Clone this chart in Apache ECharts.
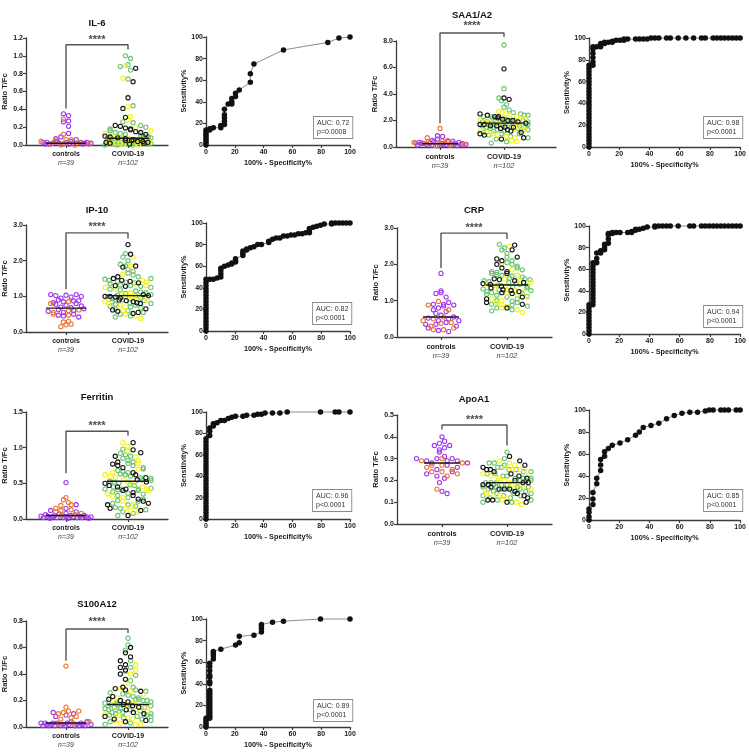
<!DOCTYPE html>
<html><head><meta charset="utf-8">
<script src="https://cdn.jsdelivr.net/npm/echarts@6/dist/echarts.min.js"></script>
<style>html,body{margin:0;padding:0;background:#fff}#c{width:749px;height:753px}</style>
</head><body><div id="c"></div>
<script>
// ---------------- DATA ----------------
const groupLabels = ['controls', 'COVID-19'];
const groupN = ['n=39', 'n=102'];

// IL-6
const il6_ctrl_purple = [0.35,0.33,0.27,0.26,0.21,0.13,0.09,0.07,0.06,0.04,0.04,0.03,0.03,0.03,0.03,0.02,0.02,0.02,0.02,0.02,0.02,0.01,0.01,0.01,0.01,0.01,0.03];
const il6_ctrl_orange = [0.29,0.12,0.06,0.06,0.05,0.04,0.03,0.02,0.01,0.01,0.0,0.0];
const il6_cov_green = [1.0,0.97,0.9,0.88,0.84,0.74,0.44,0.26,0.25,0.22,0.2,0.18,0.16,0.14,0.13,0.12,0.11,0.1,0.1,0.09,0.08,0.08,0.07,0.07,0.06,0.06,0.05,0.05,0.05,0.04,0.04,0.04,0.04,0.03,0.03,0.03,0.03,0.02,0.02,0.02,0.02,0.02,0.01,0.01,0.01,0.01,0.01,0.0,0.0,0.0];
const il6_cov_yellow = [0.89,0.75,0.43,0.32,0.28,0.2,0.16,0.13,0.1,0.08,0.07,0.06,0.05,0.05,0.04,0.04,0.03,0.03,0.02,0.02,0.02,0.01,0.01,0.01,0.0];
const il6_cov_black = [0.86,0.71,0.53,0.41,0.31,0.22,0.21,0.19,0.18,0.17,0.15,0.14,0.12,0.1,0.09,0.08,0.07,0.06,0.05,0.05,0.04,0.04,0.03,0.03,0.02,0.02,0.01];
const il6_median = [0.02, 0.075];
const il6_bracket = [0.41, 1.125, 1.07, 1.18];
const il6_roc = [[0,0],[0,2],[0,4],[0,6],[0,8],[0,10],[0,12],[0,14],[2.6,14],[2.6,15],[5.1,16],[10.3,16],[10.3,18],[12.8,19],[12.8,22],[12.8,25],[12.8,28],[12.8,33],[15.4,38],[17.9,38],[17.9,40],[17.9,43],[20.5,45],[20.5,48],[23.1,51],[30.8,58],[30.8,66],[33.3,75],[53.8,88],[84.6,95],[92.3,99],[100,100]];
const il6_auc = ['AUC: 0.72', 'p=0.0008'];

// SAA1/A2
const saa_ctrl_purple = [0.85,0.8,0.6,0.5,0.45,0.4,0.4,0.35,0.35,0.3,0.3,0.3,0.25,0.25,0.25,0.2,0.2,0.2,0.2,0.15,0.15,0.15,0.1,0.1,0.3,0.2,0.25];
const saa_ctrl_orange = [1.4,0.7,0.5,0.45,0.4,0.35,0.3,0.3,0.25,0.2,0.15,0.1];
const saa_cov_green = [7.7,4.4,3.7,3.5,3.2,3.0,2.8,2.6,2.5,2.4,2.4,2.3,2.3,2.2,2.2,2.1,2.1,2.0,2.0,2.0,1.9,1.9,1.9,1.8,1.8,1.8,1.7,1.7,1.7,1.6,1.6,1.6,1.5,1.5,1.5,1.4,1.4,1.3,1.3,1.2,1.2,1.1,1.0,1.0,0.9,0.8,0.7,0.6,0.4,0.3];
const saa_cov_yellow = [2.7,2.6,2.5,2.4,2.3,2.2,2.1,2.0,1.9,1.9,1.8,1.8,1.7,1.6,1.5,1.4,1.3,1.2,1.1,1.0,0.9,0.8,0.7,0.5,0.4];
const saa_cov_black = [5.9,3.7,3.6,2.5,2.4,2.3,2.3,2.2,2.1,2.0,2.0,1.9,1.8,1.7,1.7,1.6,1.6,1.5,1.5,1.4,1.3,1.2,1.1,1.0,0.9,0.7,0.6];
const saa_median = [0.25, 1.8];
const saa_bracket = [1.8, 8.6, 8.3, 9.15];
const saa_roc = [[0,0],[0,3],[0,6],[0,9],[0,12],[0,15],[0,18],[0,21],[0,24],[0,27],[0,30],[0,33],[0,36],[0,39],[0,42],[0,45],[0,48],[0,51],[0,54],[0,57],[0,60],[0,63],[0,66],[0,69],[0,72],[0,75],[2.6,75],[2.6,78],[2.6,82],[2.6,86],[2.6,90],[2.6,92],[5.1,92],[7.7,92],[7.7,94],[7.7,95],[10.3,95],[10.3,96],[12.8,96],[15.4,96],[15.4,97],[17.9,98],[20.5,98],[23.1,98],[23.1,99],[25.6,99],[30.8,99],[33.3,99],[35.9,99],[38.5,99],[41,100],[43.6,100],[46.2,100],[51.3,100],[53.8,100],[59,100],[64.1,100],[69.2,100],[74.4,100],[76.9,100],[82.1,100],[84.6,100],[87.2,100],[89.7,100],[92.3,100],[94.9,100],[97.4,100],[100,100]];
const saa_auc = ['AUC: 0.98', 'p<0.0001'];

// IP-10
const ip10_ctrl_purple = [1.05,1.05,1.03,1.02,1.0,0.98,0.95,0.9,0.88,0.87,0.85,0.82,0.8,0.78,0.75,0.73,0.7,0.68,0.65,0.63,0.6,0.58,0.55,0.5,0.47,0.45,0.42];
const ip10_ctrl_orange = [0.85,0.8,0.62,0.6,0.55,0.5,0.47,0.3,0.28,0.22,0.2,0.15];
const ip10_cov_green = [2.2,2.1,2.0,1.9,1.85,1.75,1.7,1.65,1.6,1.55,1.5,1.48,1.45,1.42,1.4,1.38,1.35,1.32,1.3,1.28,1.25,1.2,1.18,1.15,1.12,1.1,1.08,1.05,1.03,1.02,1.0,0.98,0.95,0.93,0.9,0.88,0.85,0.82,0.8,0.78,0.75,0.72,0.7,0.68,0.65,0.6,0.55,0.5,0.45,0.42];
const ip10_cov_yellow = [2.1,1.85,1.62,1.45,1.4,1.35,1.3,1.25,1.2,1.1,1.05,1.02,1.0,1.0,0.98,0.95,0.9,0.85,0.8,0.75,0.7,0.6,0.5,0.45,0.38];
const ip10_cov_black = [2.45,2.18,1.85,1.82,1.55,1.5,1.45,1.42,1.38,1.3,1.28,1.05,1.02,1.0,1.0,0.98,0.95,0.9,0.88,0.85,0.82,0.8,0.65,0.62,0.58,0.55,0.52];
const ip10_median = [0.67, 1.02];
const ip10_bracket = [1.2, 2.78, 2.62, 2.94];
const ip10_roc = [[0,0],[0,3],[0,6],[0,9],[0,12],[0,15],[0,18],[0,21],[0,24],[0,27],[0,30],[0,33],[0,36],[0,39],[0,42],[0,45],[0,48],[2.6,48],[5.1,48],[7.7,49],[10.3,50],[10.3,53],[10.3,56],[10.3,58],[12.8,60],[15.4,61],[17.9,62],[17.9,63],[20.5,64],[20.5,65],[20.5,67],[25.6,70],[25.6,72],[25.6,74],[28.2,75],[28.2,76],[30.8,77],[33.3,78],[35.9,80],[38.5,80],[43.6,82],[43.6,83],[46.2,85],[48.7,86],[51.3,86],[53.8,88],[56.4,88],[59,89],[61.5,89],[64.1,90],[66.7,90],[69.2,91],[71.8,91],[71.8,93],[71.8,95],[74.4,96],[76.9,97],[79.5,98],[82.1,99],[87.2,99],[87.2,100],[89.7,100],[92.3,100],[94.9,100],[97.4,100],[100,100]];
const ip10_auc = ['AUC: 0.82', 'p<0.0001'];

// CRP
const crp_ctrl_purple = [1.75,1.27,1.22,1.2,1.1,0.95,0.9,0.9,0.88,0.85,0.8,0.75,0.7,0.65,0.6,0.55,0.52,0.5,0.45,0.45,0.4,0.35,0.35,0.3,0.25,0.18,0.15];
const crp_ctrl_orange = [0.98,0.88,0.75,0.55,0.5,0.45,0.4,0.38,0.3,0.25,0.2,0.2];
const crp_cov_green = [2.55,2.45,2.4,2.3,2.2,2.1,2.05,2.0,1.95,1.9,1.85,1.8,1.78,1.75,1.72,1.7,1.68,1.65,1.62,1.6,1.58,1.55,1.52,1.5,1.48,1.45,1.43,1.4,1.38,1.35,1.32,1.3,1.28,1.25,1.22,1.2,1.18,1.15,1.12,1.1,1.05,1.0,0.98,0.95,0.9,0.88,0.85,0.8,0.75,0.72];
const crp_cov_yellow = [2.5,2.0,1.85,1.7,1.6,1.55,1.5,1.45,1.42,1.4,1.35,1.3,1.28,1.25,1.2,1.15,1.1,1.05,1.0,0.95,0.9,0.85,0.8,0.75,0.68];
const crp_cov_black = [2.53,2.4,2.2,2.15,2.1,2.0,1.9,1.8,1.75,1.6,1.58,1.55,1.5,1.47,1.45,1.4,1.35,1.3,1.28,1.25,1.22,1.2,1.1,1.05,0.95,0.9,0.8];
const crp_median = [0.55, 1.43];
const crp_bracket = [1.9, 2.86, 2.7, 3.0];
const crp_roc = [[0,0],[0,3],[0,6],[0,9],[0,12],[0,15],[0,18],[0,21],[0,24],[0,27],[2.6,27],[2.6,30],[2.6,33],[2.6,36],[2.6,39],[2.6,42],[2.6,45],[2.6,48],[2.6,51],[2.6,54],[2.6,57],[2.6,60],[2.6,63],[2.6,66],[5.1,66],[5.1,70],[5.1,75],[7.7,75],[7.7,77],[10.3,78],[10.3,80],[10.3,83],[12.8,84],[12.8,88],[12.8,92],[12.8,93],[15.4,93],[15.4,94],[17.9,94],[20.5,94],[25.6,94],[28.2,94],[28.2,95],[30.8,96],[30.8,97],[33.3,97],[35.9,98],[38.5,99],[43.6,99],[43.6,100],[46.2,100],[48.7,100],[51.3,100],[53.8,100],[59,100],[66.7,100],[69.2,100],[74.4,100],[76.9,100],[79.5,100],[82.1,100],[84.6,100],[87.2,100],[89.7,100],[92.3,100],[94.9,100],[97.4,100],[100,100]];
const crp_auc = ['AUC: 0.94', 'p<0.0001'];

// Ferritin
const fer_ctrl_purple = [0.51,0.2,0.15,0.12,0.1,0.08,0.07,0.06,0.05,0.05,0.05,0.04,0.04,0.04,0.03,0.03,0.03,0.03,0.03,0.02,0.02,0.02,0.02,0.02,0.01,0.01,0.01];
const fer_ctrl_orange = [0.3,0.27,0.23,0.2,0.19,0.15,0.13,0.12,0.1,0.08,0.06,0.05];
const fer_cov_green = [0.98,0.92,0.9,0.88,0.85,0.82,0.8,0.78,0.75,0.72,0.7,0.68,0.67,0.65,0.63,0.62,0.6,0.58,0.57,0.55,0.54,0.53,0.52,0.5,0.48,0.47,0.45,0.43,0.42,0.42,0.42,0.41,0.4,0.38,0.36,0.35,0.33,0.3,0.28,0.26,0.25,0.22,0.2,0.18,0.16,0.15,0.13,0.1,0.08,0.05];
const fer_cov_yellow = [1.07,1.02,0.95,0.87,0.82,0.78,0.7,0.65,0.62,0.6,0.58,0.55,0.52,0.5,0.45,0.42,0.4,0.35,0.32,0.3,0.25,0.2,0.15,0.12,0.1];
const fer_cov_black = [1.07,0.97,0.93,0.88,0.8,0.77,0.75,0.72,0.65,0.62,0.58,0.55,0.52,0.5,0.47,0.45,0.42,0.4,0.37,0.33,0.28,0.25,0.22,0.2,0.15,0.12,0.05];
const fer_median = [0.05, 0.53];
const fer_bracket = [0.64, 1.23, 1.17, 1.31];
const fer_roc = [[0,0],[0,3],[0,6],[0,9],[0,12],[0,15],[0,18],[0,21],[0,24],[0,27],[0,30],[0,33],[0,36],[0,39],[0,42],[0,45],[0,48],[0,51],[0,54],[0,57],[0,60],[0,63],[0,66],[0,69],[0,72],[0,75],[2.6,78],[2.6,82],[2.6,85],[5.1,87],[5.1,89],[7.7,90],[10.3,92],[12.8,92],[15.4,94],[17.9,95],[20.5,96],[25.6,96],[28.2,97],[33.3,97],[35.9,98],[38.5,98],[41,99],[46.2,99],[51.3,99],[56.4,100],[79.5,100],[89.7,100],[92.3,100],[100,100]];
const fer_auc = ['AUC: 0.96', 'p<0.0001'];

// ApoA1
const apo_ctrl_purple = [0.4,0.38,0.37,0.36,0.36,0.35,0.34,0.33,0.31,0.3,0.3,0.3,0.29,0.29,0.29,0.28,0.28,0.27,0.26,0.25,0.24,0.23,0.22,0.21,0.19,0.15,0.14];
const apo_ctrl_orange = [0.3,0.29,0.28,0.27,0.27,0.26,0.25,0.24,0.24,0.23,0.22,0.16];
const apo_cov_green = [0.33,0.3,0.28,0.28,0.27,0.26,0.26,0.25,0.25,0.24,0.24,0.23,0.23,0.22,0.22,0.21,0.21,0.21,0.2,0.2,0.2,0.19,0.19,0.19,0.18,0.18,0.18,0.17,0.17,0.17,0.17,0.16,0.16,0.16,0.16,0.15,0.15,0.15,0.14,0.14,0.14,0.13,0.13,0.13,0.12,0.12,0.11,0.11,0.1,0.1];
const apo_cov_yellow = [0.29,0.28,0.27,0.26,0.25,0.25,0.24,0.23,0.22,0.21,0.2,0.2,0.19,0.18,0.18,0.17,0.16,0.15,0.14,0.13,0.13,0.12,0.11,0.1,0.09];
const apo_cov_black = [0.31,0.29,0.27,0.26,0.25,0.25,0.24,0.23,0.22,0.21,0.2,0.19,0.19,0.18,0.18,0.17,0.16,0.16,0.16,0.15,0.14,0.13,0.12,0.11,0.11,0.1,0.1];
const apo_median = [0.28, 0.19];
const apo_bracket = [0.434, 0.454, 0.36, 0.478];
const apo_roc = [[0,0],[0,3],[0,7],[0,10],[2.6,14],[2.6,19],[2.6,25],[5.1,33],[5.1,38],[7.7,45],[7.7,50],[7.7,55],[10.3,58],[10.3,62],[12.8,65],[15.4,68],[20.5,70],[25.6,73],[30.8,77],[33.3,80],[35.9,84],[41,86],[46.2,88],[51.3,92],[56.4,95],[61.5,97],[66.7,98],[71.8,98],[76.9,99],[79.5,100],[82.1,100],[87.2,100],[89.7,100],[92.3,100],[97.4,100],[100,100]];
const apo_auc = ['AUC: 0.85', 'p<0.0001'];

// S100A12
const s100_ctrl_purple = [0.11,0.1,0.09,0.08,0.04,0.04,0.03,0.03,0.03,0.03,0.03,0.03,0.02,0.02,0.02,0.02,0.02,0.02,0.02,0.01,0.01,0.01,0.01,0.01,0.01,0.01,0.01];
const s100_ctrl_orange = [0.46,0.15,0.12,0.12,0.11,0.1,0.08,0.07,0.06,0.04,0.03,0.02];
const s100_cov_green = [0.67,0.62,0.58,0.5,0.45,0.42,0.39,0.35,0.3,0.28,0.27,0.26,0.25,0.24,0.23,0.22,0.21,0.21,0.2,0.2,0.19,0.18,0.18,0.17,0.17,0.17,0.16,0.16,0.15,0.15,0.14,0.14,0.13,0.13,0.12,0.12,0.11,0.11,0.1,0.1,0.09,0.09,0.08,0.08,0.07,0.06,0.05,0.04,0.03,0.02];
const s100_cov_yellow = [0.47,0.43,0.4,0.33,0.29,0.27,0.25,0.22,0.2,0.19,0.18,0.17,0.17,0.16,0.15,0.13,0.12,0.1,0.09,0.07,0.06,0.05,0.03,0.02,0.02];
const s100_cov_black = [0.6,0.56,0.53,0.5,0.47,0.45,0.43,0.4,0.36,0.3,0.29,0.28,0.27,0.23,0.21,0.2,0.19,0.17,0.16,0.15,0.13,0.11,0.1,0.08,0.06,0.05,0.04];
const s100_median = [0.03, 0.17];
const s100_bracket = [0.5, 0.74, 0.71, 0.79];
const s100_roc = [[0,0],[0,2],[0,4],[0,6],[0,8],[2.6,8],[2.6,10],[2.6,12],[2.6,14],[2.6,16],[2.6,18],[2.6,20],[2.6,22],[2.6,24],[2.6,26],[2.6,28],[2.6,30],[2.6,32],[2.6,34],[2.6,40],[2.6,42],[2.6,46],[2.6,48],[2.6,52],[2.6,56],[2.6,59],[5.1,63],[5.1,66],[5.1,68],[5.1,70],[10.3,72],[20.5,76],[23.1,78],[23.1,84],[33.3,85],[38.5,88],[38.5,91],[38.5,93],[38.5,95],[46.2,97],[53.8,98],[79.5,100],[100,100]];
const s100_auc = ['AUC: 0.89', 'p<0.0001'];

// ---------------- LAYOUT / STYLE ----------------
const FONT = '"Liberation Sans", Arial, sans-serif';
const COL = {purple:'#a238f0', orange:'#ec7630', green:'#6cc472', yellow:'#f4f21c', black:'#141414'};
const AXC = '#3c3c3c';

const dotPanels = [
  {title:'IL-6', tpos:[97,23], grid:{left:26,top:38,width:142,height:107}, ymax:1.2, yint:0.2, centers:[40,102], hw:[25,23], mhw:[20,21], fs:7,
   ctrl:[[il6_ctrl_purple,'purple'],[il6_ctrl_orange,'orange']], cov:[[il6_cov_green,'green'],[il6_cov_yellow,'yellow'],[il6_cov_black,'black']], med:il6_median, br:il6_bracket},
  {title:'SAA1/A2', tpos:[472,15], grid:{left:396,top:41,width:160,height:106}, ymax:8, yint:2, centers:[44,108], hw:[26,24], mhw:[18,21], fs:7.4,
   ctrl:[[saa_ctrl_purple,'purple'],[saa_ctrl_orange,'orange']], cov:[[saa_cov_green,'green'],[saa_cov_yellow,'yellow'],[saa_cov_black,'black']], med:saa_median, br:saa_bracket},
  {title:'IP-10', tpos:[97,210], grid:{left:26,top:225,width:142,height:107}, ymax:3, yint:1, centers:[40,102], hw:[25,23], mhw:[20,21], fs:7,
   ctrl:[[ip10_ctrl_purple,'purple'],[ip10_ctrl_orange,'orange']], cov:[[ip10_cov_green,'green'],[ip10_cov_yellow,'yellow'],[ip10_cov_black,'black']], med:ip10_median, br:ip10_bracket},
  {title:'CRP', tpos:[474,210], grid:{left:397,top:228,width:155,height:109}, ymax:3, yint:1, centers:[44,110], hw:[26,24], mhw:[18,21], fs:7.4,
   ctrl:[[crp_ctrl_purple,'purple'],[crp_ctrl_orange,'orange']], cov:[[crp_cov_green,'green'],[crp_cov_yellow,'yellow'],[crp_cov_black,'black']], med:crp_median, br:crp_bracket},
  {title:'Ferritin', tpos:[97,397], grid:{left:26,top:412,width:142,height:107}, ymax:1.5, yint:0.5, centers:[40,102], hw:[25,23], mhw:[20,21], fs:7,
   ctrl:[[fer_ctrl_purple,'purple'],[fer_ctrl_orange,'orange']], cov:[[fer_cov_green,'green'],[fer_cov_yellow,'yellow'],[fer_cov_black,'black']], med:fer_median, br:fer_bracket},
  {title:'ApoA1', tpos:[474,399], grid:{left:397,top:415,width:155,height:109}, ymax:0.5, yint:0.1, centers:[45,110], hw:[26,24], mhw:[18,21], fs:7.4,
   ctrl:[[apo_ctrl_purple,'purple'],[apo_ctrl_orange,'orange']], cov:[[apo_cov_green,'green'],[apo_cov_yellow,'yellow'],[apo_cov_black,'black']], med:apo_median, br:apo_bracket},
  {title:'S100A12', tpos:[97,604], grid:{left:26,top:621,width:142,height:106}, ymax:0.8, yint:0.2, centers:[40,102], hw:[25,23], mhw:[20,21], fs:7,
   ctrl:[[s100_ctrl_purple,'purple'],[s100_ctrl_orange,'orange']], cov:[[s100_cov_green,'green'],[s100_cov_yellow,'yellow'],[s100_cov_black,'black']], med:s100_median, br:s100_bracket}
];

const rocPanels = [
  {grid:{left:206,top:37,width:144,height:108}, data:il6_roc, auc:il6_auc, box:[314,117]},
  {grid:{left:589,top:38,width:153,height:109}, data:saa_roc, auc:saa_auc, box:[704,117]},
  {grid:{left:206,top:223,width:144,height:108}, data:ip10_roc, auc:ip10_auc, box:[313,303]},
  {grid:{left:589,top:226,width:153,height:108}, data:crp_roc, auc:crp_auc, box:[704,306]},
  {grid:{left:206,top:412,width:144,height:107}, data:fer_roc, auc:fer_auc, box:[313,490]},
  {grid:{left:589,top:410,width:153,height:110}, data:apo_roc, auc:apo_auc, box:[704,490]},
  {grid:{left:206,top:619,width:144,height:108}, data:s100_roc, auc:s100_auc, box:[314,700]}
];

// GraphPad-like row layout: only x offsets are computed, y stays the value
function swarm(items, cx, pxPerUnit, maxHW, rowH, sp) {
  const pts = items.map((it, i) => ({v: it.v, c: it.c, i, py: it.v * pxPerUnit}))
    .sort((a, b) => a.py - b.py || a.i - b.i);
  const out = [];
  let row = [], start = null;
  const flush = () => {
    const n = row.length;
    const s = n > 1 ? Math.min(sp, 2 * maxHW / (n - 1)) : 0;
    row.sort((a, b) => ((a.i * 37) % 101) - ((b.i * 37) % 101));
    row.forEach((p, k) => out.push({x: cx + (k - (n - 1) / 2) * s, v: p.v, c: p.c}));
    row = [];
  };
  pts.forEach(p => {
    if (start === null || p.py - start >= rowH) { if (row.length) flush(); start = p.py; }
    row.push(p);
  });
  if (row.length) flush();
  return out;
}

const grid = [], xAxis = [], yAxis = [], series = [], graphic = [];
const axisLine = {show: true, lineStyle: {color: AXC, width: 1.3}};
const tickStyle = {color: AXC, width: 1.2};

dotPanels.forEach(p => {
  const gi = grid.length;
  grid.push(Object.assign({}, p.grid));
  xAxis.push({
    gridIndex: gi, type: 'value', min: 0, max: p.grid.width,
    axisLine, splitLine: {show: false},
    axisTick: {show: true, length: 3, lineStyle: tickStyle, customValues: p.centers},
    axisLabel: {
      show: true, customValues: p.centers, margin: 5,
      formatter: v => {
        const k = Math.abs(v - p.centers[0]) < Math.abs(v - p.centers[1]) ? 0 : 1;
        return '{a|' + groupLabels[k] + '}\n{b|' + groupN[k] + '}';
      },
      rich: {
        a: {fontSize: p.fs, fontWeight: 'bold', color: '#1a1a1a', fontFamily: FONT, lineHeight: 9},
        b: {fontSize: p.fs, fontStyle: 'italic', color: '#444', fontFamily: FONT, lineHeight: 9}
      }
    }
  });
  yAxis.push({
    gridIndex: gi, type: 'value', min: 0, max: p.ymax, interval: p.yint,
    name: 'Ratio T/Fc', nameLocation: 'middle', nameGap: 15,
    nameTextStyle: {fontSize: 7.5, fontWeight: 'bold', color: '#1a1a1a', fontFamily: FONT},
    axisLine, splitLine: {show: false},
    axisTick: {show: true, length: 3, lineStyle: tickStyle},
    axisLabel: {formatter: v => v.toFixed(1), fontSize: 7, fontWeight: 'bold', color: '#1a1a1a', fontFamily: FONT, margin: 3}
  });
  const ppu = p.grid.height / p.ymax;
  [p.ctrl, p.cov].forEach((grp, gk) => {
    const items = [];
    const maxLen = Math.max(...grp.map(g => g[0].length));
    for (let i = 0; i < maxLen; i++) grp.forEach(([arr, c]) => { if (i < arr.length) items.push({v: arr[i], c}); });
    const placed = swarm(items, p.centers[gk], ppu, p.hw[gk], 4.6, 5.1);
    grp.forEach(([arr, c]) => {
      series.push({
        type: 'scatter', xAxisIndex: gi, yAxisIndex: gi, silent: true, clip: false,
        symbol: 'circle', symbolSize: 4.2,
        itemStyle: {color: 'rgba(255,255,255,0)', borderColor: COL[c], borderWidth: 1.1, opacity: 1},
        data: placed.filter(q => q.c === c).map(q => [q.x, q.v]), z: 3
      });
    });
    series.push({
      type: 'line', xAxisIndex: gi, yAxisIndex: gi, silent: true, symbol: 'none', clip: false,
      lineStyle: {color: '#1a1a1a', width: 1.4}, z: 5,
      data: [[p.centers[gk] - p.mhw[gk], p.med[gk]], [p.centers[gk] + p.mhw[gk], p.med[gk]]]
    });
  });
  const [b0, bt, b1, sy] = p.br;
  series.push({
    type: 'line', xAxisIndex: gi, yAxisIndex: gi, silent: true, symbol: 'none', clip: false,
    lineStyle: {color: '#555', width: 1.4}, z: 4,
    data: [[p.centers[0], b0], [p.centers[0], bt], [p.centers[1], bt], [p.centers[1], b1]]
  });
  series.push({
    type: 'scatter', xAxisIndex: gi, yAxisIndex: gi, silent: true, clip: false, symbolSize: 1,
    itemStyle: {color: 'rgba(0,0,0,0)'},
    label: {show: true, position: 'inside', formatter: '****', fontSize: 11, fontWeight: 'bold', color: '#1a1a1a', fontFamily: FONT},
    data: [[(p.centers[0] + p.centers[1]) / 2, sy]]
  });
  graphic.push({type: 'text', x: p.tpos[0], y: p.tpos[1], silent: true,
    style: {text: p.title, font: 'bold 9.5px ' + FONT, fill: '#111', align: 'center', verticalAlign: 'middle'}});
});

rocPanels.forEach(p => {
  const gi = grid.length;
  grid.push(Object.assign({}, p.grid));
  xAxis.push({
    gridIndex: gi, type: 'value', min: 0, max: 100, interval: 20,
    name: '100% - Specificity%', nameLocation: 'middle', nameGap: 14,
    nameTextStyle: {fontSize: 7.3, fontWeight: 'bold', color: '#1a1a1a', fontFamily: FONT},
    axisLine, splitLine: {show: false},
    axisTick: {show: true, length: 3, lineStyle: tickStyle},
    axisLabel: {fontSize: 7, fontWeight: 'bold', color: '#1a1a1a', fontFamily: FONT, margin: 4}
  });
  yAxis.push({
    gridIndex: gi, type: 'value', min: 0, max: 100, interval: 20,
    name: 'Sensitivity%', nameLocation: 'middle', nameGap: 18,
    nameTextStyle: {fontSize: 7.3, fontWeight: 'bold', color: '#1a1a1a', fontFamily: FONT},
    axisLine, splitLine: {show: false},
    axisTick: {show: true, length: 3, lineStyle: tickStyle},
    axisLabel: {fontSize: 7, fontWeight: 'bold', color: '#1a1a1a', fontFamily: FONT, margin: 3}
  });
  series.push({
    type: 'line', xAxisIndex: gi, yAxisIndex: gi, silent: true, clip: false,
    symbol: 'circle', symbolSize: 5.5, showSymbol: true,
    itemStyle: {color: '#111'}, lineStyle: {color: '#8a8a8a', width: 1}, z: 3,
    data: p.data
  });
  graphic.push({type: 'text', x: p.box[0], y: p.box[1], silent: true,
    style: {text: p.auc.join('\n'), font: '7px ' + FONT, fill: '#333', backgroundColor: '#fff',
      borderColor: '#8a8a8a', borderWidth: 0.9, padding: [2, 3, 2, 3], lineHeight: 8.5, align: 'left', verticalAlign: 'top'}});
});

const chart = echarts.init(document.getElementById('c'), null, {renderer: 'canvas', width: 749, height: 753});
chart.setOption({
  backgroundColor: '#fff', animation: false,
  grid, xAxis, yAxis, series, graphic
});
</script>
</body></html>
